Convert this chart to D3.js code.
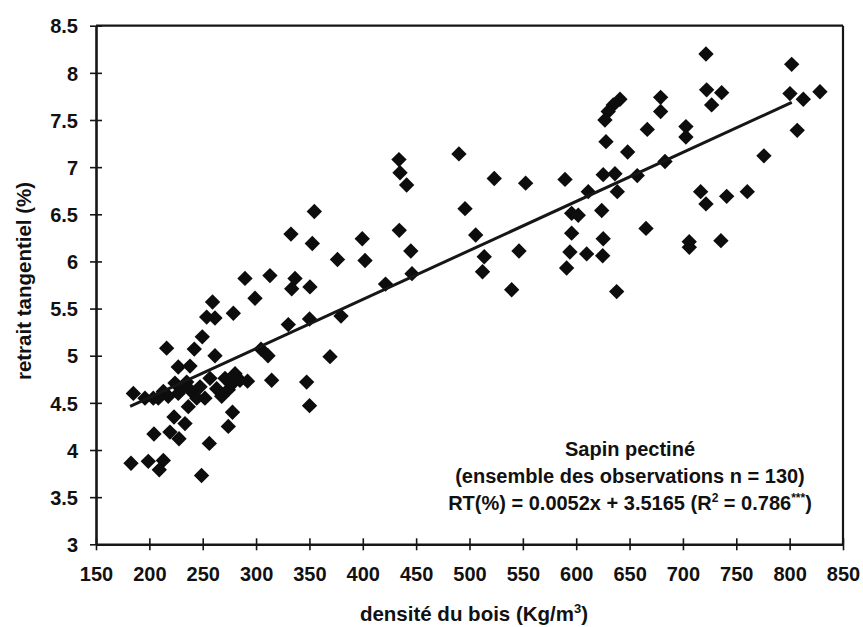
<!DOCTYPE html>
<html>
<head>
<meta charset="utf-8">
<script src="https://cdn.jsdelivr.net/npm/d3@7"></script>
<style>
  html, body { margin: 0; padding: 0; background: #fff; }
  svg { display: block; font-family: "Liberation Sans", Arial, sans-serif; font-weight: bold; }
</style>
</head>
<body>
<svg id="chart" width="863" height="627"></svg>
<script>
// ---- data ----
const density = [
  289.6, 313.0, 336.5, 333.4, 299.0, 259.2, 278.7, 253.7, 261.5, 249.6,
  216.2, 242.1, 261.5, 227.1, 238.1, 330.2, 350.1, 304.6, 311.2, 185.0,
  314.6, 347.4, 350.1, 292.0, 236.5, 277.9, 274.0, 223.1, 233.4, 204.3,
  219.3, 227.8, 256.2, 182.8, 199.0, 213.1, 209.3, 248.9,
  433.9, 434.9, 441.1, 490.1, 523.2, 552.6, 354.6, 495.8, 332.7, 352.7,
  399.5, 434.2, 376.3, 402.1, 445.0, 505.8, 546.4, 513.8, 512.2, 539.5,
  350.5, 421.3, 446.1, 379.6, 369.3,
  721.6, 801.9, 722.2, 736.3, 726.9, 800.3, 812.8, 828.4, 807.1, 641.0,
  634.7, 630.0, 626.9, 679.1, 679.1, 666.6, 702.8, 702.8, 627.9, 648.2,
  775.9, 683.2, 589.5, 625.3, 636.3, 657.2, 638.5, 611.3, 716.6, 721.6,
  741.0, 760.3, 595.7, 601.9, 623.9, 595.7, 625.3, 665.4, 594.1, 609.8,
  624.8, 591.0, 705.9, 735.6, 637.9,
  203.7, 213.1, 224.0, 227.1, 235.0, 239.6, 247.5, 252.1, 256.8, 263.1,
  270.9, 274.0, 280.3, 284.9, 217.7, 244.4, 267.8, 195.9, 208.4,
  706.0, 230.6, 277.4
];
const shrinkage = [
  5.82, 5.85, 5.82, 5.71, 5.61, 5.57, 5.45, 5.41, 5.40, 5.20,
  5.08, 5.07, 5.00, 4.88, 4.89, 5.33, 5.39, 5.07, 5.00, 4.60,
  4.74, 4.72, 4.47, 4.73, 4.46, 4.40, 4.25, 4.35, 4.28, 4.17,
  4.19, 4.12, 4.07, 3.86, 3.88, 3.89, 3.79, 3.73,
  7.08, 6.94, 6.81, 7.14, 6.88, 6.83, 6.53, 6.56, 6.29, 6.19,
  6.24, 6.33, 6.02, 6.01, 6.11, 6.28, 6.11, 6.05, 5.89, 5.70,
  5.73, 5.76, 5.87, 5.42, 4.99,
  8.20, 8.09, 7.82, 7.79, 7.66, 7.78, 7.72, 7.80, 7.39, 7.72,
  7.66, 7.59, 7.50, 7.74, 7.59, 7.40, 7.43, 7.32, 7.27, 7.16,
  7.12, 7.06, 6.87, 6.92, 6.93, 6.91, 6.74, 6.74, 6.74, 6.61,
  6.69, 6.74, 6.51, 6.49, 6.54, 6.30, 6.24, 6.35, 6.10, 6.08,
  6.06, 5.93, 6.21, 6.22, 5.68,
  4.55, 4.62, 4.71, 4.60, 4.72, 4.62, 4.67, 4.55, 4.76, 4.65,
  4.76, 4.64, 4.81, 4.74, 4.57, 4.55, 4.57, 4.55, 4.55,
  6.15, 4.66, 4.70
];
const xTicks = [150, 200, 250, 300, 350, 400, 450, 500, 550, 600, 650, 700, 750, 800, 850];
const yTicks = [3, 3.5, 4, 4.5, 5, 5.5, 6, 6.5, 7, 7.5, 8, 8.5];
const slope = 0.0052, intercept = 3.5165;
const fitRange = [182, 802];
const annotation = ["Sapin pectiné", "(ensemble des observations n = 130)"];

// ---- drawing ----
const svg = d3.select("#chart");
const x = d3.scaleLinear().domain([150, 850]).range([96, 843]);
const y = d3.scaleLinear().domain([3, 8.5]).range([544.3, 25.7]);
const ink = "#161616";
const fontFam = '"Liberation Sans", Arial, sans-serif';

// frame top & right
svg.append("line").attr("x1", x(150)).attr("x2", x(850)).attr("y1", y(8.5)).attr("y2", y(8.5))
  .attr("stroke", ink).attr("stroke-width", 2.2);
svg.append("line").attr("x1", x(850)).attr("x2", x(850)).attr("y1", y(8.5)).attr("y2", y(3))
  .attr("stroke", ink).attr("stroke-width", 2.2);

// axes
const xAxis = svg.append("g").attr("transform", `translate(0,${y(3)})`)
  .call(d3.axisBottom(x).tickValues(xTicks).tickSizeInner(6).tickSizeOuter(0).tickPadding(17).tickFormat(d3.format("d")));
xAxis.selectAll(".tick line").attr("y1", -6).attr("y2", 6);
const yAxis = svg.append("g").attr("transform", `translate(${x(150)},0)`)
  .call(d3.axisLeft(y).tickValues(yTicks).tickSizeInner(6).tickSizeOuter(0).tickPadding(12).tickFormat(d => String(d)));
yAxis.selectAll(".tick line").attr("x1", -6).attr("x2", 6);
[xAxis, yAxis].forEach(g => {
  g.select(".domain").attr("stroke", ink).attr("stroke-width", 2.6);
  g.selectAll(".tick line").attr("stroke", ink).attr("stroke-width", 1.6);
  g.selectAll(".tick text").attr("fill", "#111").style("font-size", "20px").style("font-weight", "bold")
    .style("font-family", fontFam);
});
xAxis.selectAll(".tick text").attr("dy", "0.71em");
yAxis.selectAll(".tick text").attr("dy", "0.36em");

// points (rotated squares)
const pts = density.map((d, i) => [d, shrinkage[i]]);
const sym = d3.symbol().type(d3.symbolSquare).size(118);
svg.append("g").selectAll("path").data(pts).join("path")
  .attr("d", sym)
  .attr("transform", d => `translate(${x(d[0])},${y(d[1])}) rotate(45)`)
  .attr("fill", "#0d0d0d");

// regression line
svg.append("line")
  .attr("x1", x(fitRange[0])).attr("y1", y(slope * fitRange[0] + intercept))
  .attr("x2", x(fitRange[1])).attr("y2", y(slope * fitRange[1] + intercept))
  .attr("stroke", ink).attr("stroke-width", 3);

// axis titles
const xt = svg.append("text").attr("x", 474).attr("y", 621).attr("text-anchor", "middle")
  .style("font-size", "20.5px").attr("fill", "#111");
xt.append("tspan").text("densité du bois (Kg/m");
xt.append("tspan").text("3").style("font-size", "13px").attr("dy", -8);
xt.append("tspan").text(")").attr("dy", 8);

svg.append("text").attr("transform", "translate(31,281) rotate(-90)").attr("text-anchor", "middle")
  .style("font-size", "20.5px").attr("fill", "#111").text("retrait tangentiel (%)");

// annotation
const ax = 630;
svg.append("text").attr("x", ax).attr("y", 456).attr("text-anchor", "middle")
  .style("font-size", "20px").attr("fill", "#111").text(annotation[0]);
svg.append("text").attr("x", ax).attr("y", 483).attr("text-anchor", "middle")
  .style("font-size", "20px").attr("fill", "#111").text(annotation[1]);
const eq = svg.append("text").attr("x", ax).attr("y", 510).attr("text-anchor", "middle")
  .style("font-size", "20px").attr("fill", "#111");
eq.append("tspan").text(`RT(%) = ${slope}x + ${intercept} (R`);
eq.append("tspan").text("2").style("font-size", "12px").attr("dy", -8);
eq.append("tspan").text(" = 0.786").attr("dy", 8);
eq.append("tspan").text("***").style("font-size", "12px").attr("dy", -8);
eq.append("tspan").text(")").attr("dy", 8);
</script>
</body>
</html>
